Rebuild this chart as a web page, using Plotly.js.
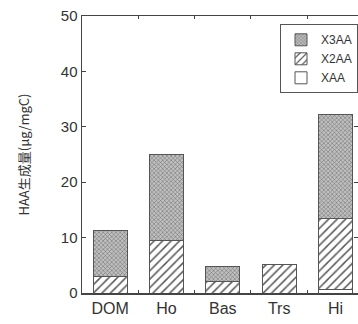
<!DOCTYPE html>
<html><head><meta charset="utf-8">
<script src="https://cdn.plot.ly/plotly-3.0.1.min.js"></script>
<style>body{margin:0;background:#fff}#c{width:358px;height:324px}</style>
</head><body><div id="c"></div>
<script>
const categories = ["DOM", "Ho", "Bas", "Trs", "Hi"];
const xaa = [0, 0, 0, 0, 0.6];
const x2aa = [2.9, 9.5, 2.1, 5.2, 12.9];
const x3aa = [8.3, 15.5, 2.7, 0, 18.7];
const yTicks = [0, 10, 20, 30, 40, 50];

const line = {color: "#555", width: 1};
const traces = [
  {type: "bar", name: "XAA", x: categories, y: xaa, width: 0.6,
   marker: {color: "#fff", line: line}},
  {type: "bar", name: "X2AA", x: categories, y: x2aa, width: 0.6,
   marker: {color: "#fff", line: line,
     pattern: {shape: "/", fgcolor: "#555", bgcolor: "#fff", size: 6, solidity: 0.25}}},
  {type: "bar", name: "X3AA", x: categories, y: x3aa, width: 0.6,
   marker: {color: "#bbb", line: line,
     pattern: {shape: "x", fgcolor: "#666", bgcolor: "#c0c0c0", size: 3, solidity: 0.3}}}
];
const layout = {
  width: 358, height: 324,
  margin: {l: 82, r: 0, t: 16, b: 31},
  barmode: "stack",
  showlegend: true,
  paper_bgcolor: "#fff", plot_bgcolor: "#fff",
  font: {family: "Liberation Sans, Arial, sans-serif", color: "#333"},
  legend: {x: 1, xanchor: "right", y: 0.97, yanchor: "top", traceorder: "reversed",
    bordercolor: "#555", borderwidth: 1, bgcolor: "#fff",
    font: {size: 12, color: "#333"}, itemwidth: 30, tracegroupgap: 0},
  xaxis: {range: [-0.5, 4.4], showline: true, linecolor: "#444", linewidth: 1.5, mirror: "ticks",
    ticks: "inside", tickson: "boundaries", ticklen: 3, tickcolor: "#444",
    tickfont: {size: 16, color: "#333"}, showgrid: false, zeroline: false},
  yaxis: {range: [0, 50], tickvals: yTicks, showline: true, linecolor: "#444", linewidth: 1.5, mirror: "ticks",
    ticks: "inside", ticklen: 4, tickcolor: "#444", tickfont: {size: 15, color: "#333"},
    showgrid: false, zeroline: false,
    title: {text: "HAA生成量(μg/mgC)", font: {size: 13, color: "#333", family: "Noto Sans CJK JP, Liberation Sans, sans-serif"}, standoff: 28}}
};
Plotly.newPlot("c", traces, layout, {displayModeBar: false, staticPlot: true});
</script></body></html>
